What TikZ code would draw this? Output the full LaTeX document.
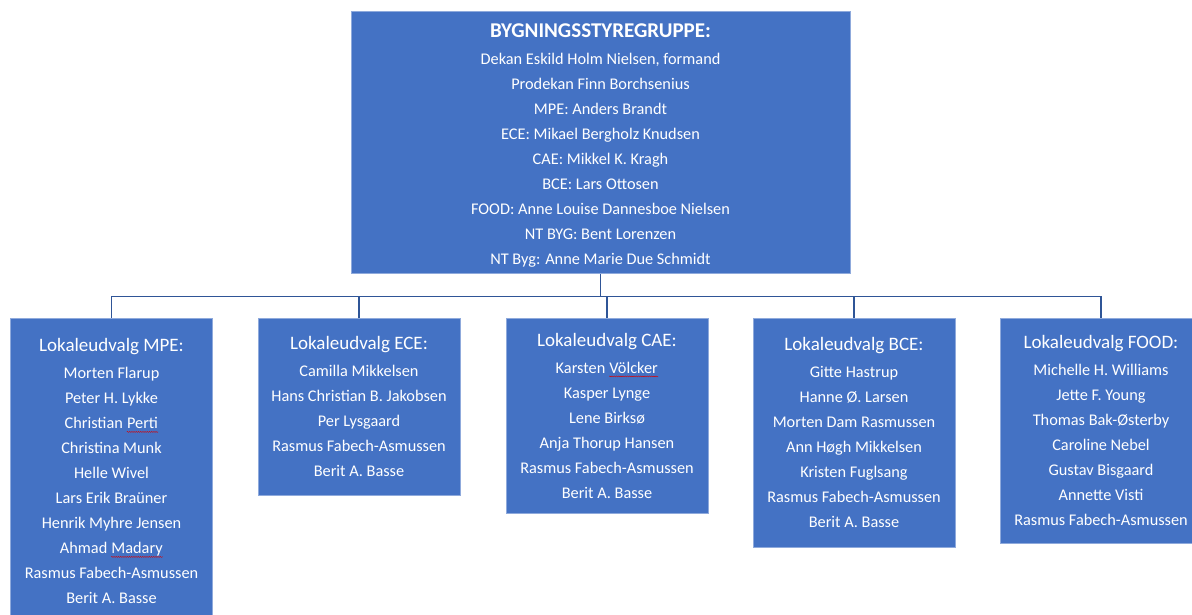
\documentclass[tikz,border=0pt]{standalone}
\usepackage{fontspec}
\setmainfont{Carlito}
\usetikzlibrary{positioning,decorations.pathmorphing}
\definecolor{boxblue}{HTML}{4472C4}
\definecolor{boxedge}{HTML}{8FAADC}
\definecolor{linkblue}{HTML}{2F5597}
\newcommand{\udtitle}[1]{{\fontsize{19}{25}\selectfont #1}}
\newcommand{\squig}[1]{\tikz[baseline=(sq.base)]{\node[inner sep=0pt,draw=none,fill=none,minimum width=0pt,minimum height=0pt,anchor=base] (sq) {#1};
  \draw[red!85!black,line width=0.4pt,decorate,decoration={snake,amplitude=0.5pt,segment length=2.2pt}] ([yshift=-3pt]sq.base west) -- ([yshift=-3pt]sq.base east);}}
\tikzset{
  udvalg/.style={fill=boxblue,draw=boxedge,line width=0.8pt,text=white,align=center,anchor=north,
    minimum width=202pt,inner sep=0pt,font=\fontsize{16.3}{25}\selectfont},
  link/.style={draw=linkblue,line width=1.5pt}
}

\begin{document}
\begin{tikzpicture}[x=1pt,y=-1pt]
\clip (0,0) rectangle (1192,615);
\def\top{318}

\node[udvalg,minimum width=499pt,minimum height=262pt] (styre) at (600.5,11) {\rule{0pt}{20pt}{\bfseries\fontsize{21}{25}\selectfont BYGNINGSSTYREGRUPPE:}\\[1.5pt]
  Dekan Eskild Holm Nielsen, formand\\ Prodekan Finn Borchsenius\\ MPE: Anders Brandt\\ ECE: Mikael Bergholz Knudsen\\
  CAE: Mikkel K. Kragh\\ BCE: Lars Ottosen\\ FOOD: Anne Louise Dannesboe Nielsen\\ NT BYG: Bent Lorenzen\\ NT Byg: Anne Marie Due Schmidt};

\node[udvalg,minimum height=306pt] (mpe) at (111.5,\top) {\udtitle{Lokaleudvalg MPE:}\\[2pt]
  Morten Flarup\\ Peter H. Lykke\\ Christian \squig{Perti}\\ Christina Munk\\ Helle Wivel\\ Lars Erik Braüner\\
  Henrik Myhre Jensen\\ Ahmad \squig{Madary}\\ Rasmus Fabech-Asmussen\\ Berit A. Basse};
\node[udvalg,minimum height=177pt] (ece) at (359,\top) {\udtitle{Lokaleudvalg ECE:}\\[2pt]
  Camilla Mikkelsen\\ Hans Christian B. Jakobsen\\ Per Lysgaard\\ Rasmus Fabech-Asmussen\\ Berit A. Basse};
\node[udvalg,minimum height=195pt] (cae) at (607,\top) {\udtitle{Lokaleudvalg CAE:}\\[2pt]
  Karsten \squig{Völcker}\\ Kasper Lynge\\ Lene Birksø\\ Anja Thorup Hansen\\ Rasmus Fabech-Asmussen\\ Berit A. Basse};
\node[udvalg,minimum height=229pt] (bce) at (854,\top) {\udtitle{Lokaleudvalg BCE:}\\[2pt]
  Gitte Hastrup\\ Hanne Ø. Larsen\\ Morten Dam Rasmussen\\ Ann Høgh Mikkelsen\\ Kristen Fuglsang\\ Rasmus Fabech-Asmussen\\ Berit A. Basse};
\node[udvalg,minimum height=225pt] (food) at (1101,\top) {\udtitle{Lokaleudvalg FOOD:}\\[2pt]
  Michelle H. Williams\\ Jette F. Young\\ Thomas Bak-Østerby\\ Caroline Nebel\\ Gustav Bisgaard\\ Annette Visti\\ Rasmus Fabech-Asmussen};

\coordinate (bar) at (600,296.5);
\draw[link] (styre.south) -- (styre.south |- bar);
\draw[link] (mpe.north) |- (bar) -| (food.north);
\foreach \u in {ece,cae,bce}
  \draw[link] (\u.north) -- (\u.north |- bar);
\end{tikzpicture}
\end{document}
